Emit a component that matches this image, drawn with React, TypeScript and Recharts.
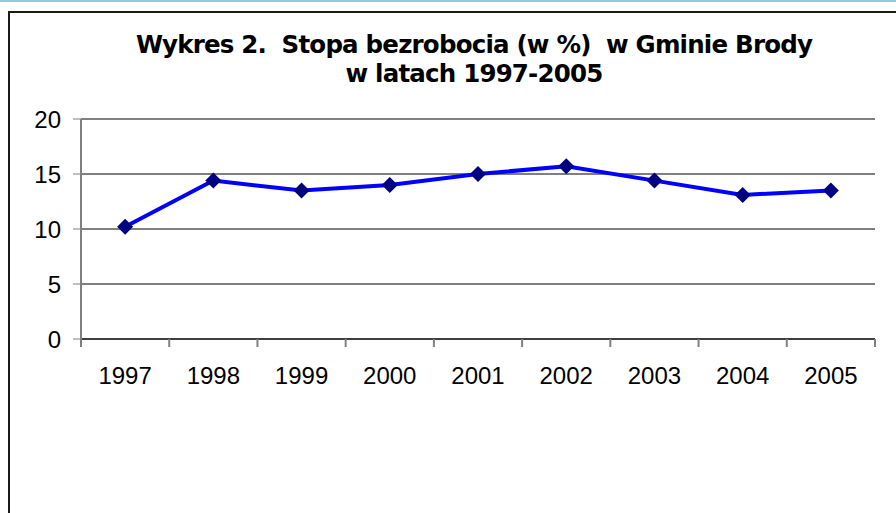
import { CartesianGrid, Line, LineChart, XAxis, YAxis } from "recharts";

const years = ["1997", "1998", "1999", "2000", "2001", "2002", "2003", "2004", "2005"];
const unemploymentRate = [10.2, 14.4, 13.5, 14.0, 15.0, 15.7, 14.4, 13.1, 13.5];
const yTicks = [0, 5, 10, 15, 20];

const titleLines = ["Wykres 2.  Stopa bezrobocia (w %)  w Gminie Brody", "w latach 1997-2005"];

// points sit in the middle of each year slot, tick marks on the slot edges
const chartData = years.map((year, i) => ({ pos: i + 0.5, year, rate: unemploymentRate[i] }));
const xTicks = [
  ...years.map((_, i) => i),
  years.length,
  ...years.map((_, i) => i + 0.5),
].sort((a, b) => a - b);

const axisFont = '"Liberation Sans", Arial, sans-serif';

const YearTick = (props: any) => {
  const { x, y, payload } = props;
  const v = payload.value as number;
  if (Number.isInteger(v)) {
    return <line x1={x} x2={x} y1={y - 8} y2={y} stroke="#808080" strokeWidth={2} />;
  }
  return (
    <text x={x} y={y + 37} textAnchor="middle" fill="#000" fontSize={24} fontFamily={axisFont}>
      {years[Math.floor(v)]}
    </text>
  );
};

const Diamond = (props: any) => {
  const { cx, cy } = props;
  if (cx == null || cy == null) return null;
  return (
    <path
      d={`M${cx},${cy - 8}L${cx + 8},${cy}L${cx},${cy + 8}L${cx - 8},${cy}Z`}
      fill="#000080"
    />
  );
};

export default function App() {
  return (
    <div style={{ position: "absolute", left: 0, top: 0, width: 896, height: 513, background: "#fff", overflow: "hidden" }}>
      <div style={{ position: "absolute", left: 0, top: 0, width: 896, height: 2, background: "#93cbd9" }} />
      <div
        style={{
          position: "absolute",
          left: 8,
          top: 11,
          width: 900,
          height: 520,
          borderLeft: "2px solid #1a1a1a",
          borderTop: "2px solid #1a1a1a",
        }}
      />
      <div style={{ position: "absolute", left: 0, top: 0 }}>
        <LineChart width={896} height={513} data={chartData} margin={{ top: 119, right: 21, bottom: 134, left: 0 }}>
          <CartesianGrid horizontal vertical={false} stroke="#000" strokeOpacity={1} />
          <XAxis
            dataKey="pos"
            type="number"
            domain={[0, years.length]}
            ticks={xTicks}
            interval={0}
            height={40}
            tickSize={8}
            tickMargin={0}
            tickLine={false}
            axisLine={{ stroke: "#000", strokeWidth: 1 }}
            tick={<YearTick />}
          />
          <YAxis
            domain={[0, 20]}
            ticks={yTicks}
            interval={0}
            width={81}
            tickSize={8}
            tickMargin={12}
            axisLine={{ stroke: "#808080", strokeWidth: 2 }}
            tickLine={{ stroke: "#808080", strokeWidth: 1 }}
            tick={{ fill: "#000", fontSize: 24, fontFamily: axisFont }}
          />
          <Line
            type="linear"
            dataKey="rate"
            stroke="#0000ff"
            strokeWidth={4}
            dot={<Diamond />}
            activeDot={false}
            isAnimationActive={false}
          />
        </LineChart>
      </div>
      <div
        style={{
          position: "absolute",
          left: 0,
          top: 30,
          width: 948,
          textAlign: "center",
          fontFamily: '"DejaVu Sans", Verdana, sans-serif',
          fontWeight: "bold",
          fontSize: 24.5,
          lineHeight: "29px",
          letterSpacing: -0.8,
          whiteSpace: "pre",
          color: "#000",
        }}
      >
        {titleLines.map((t) => (
          <div key={t}>{t}</div>
        ))}
      </div>
    </div>
  );
}
